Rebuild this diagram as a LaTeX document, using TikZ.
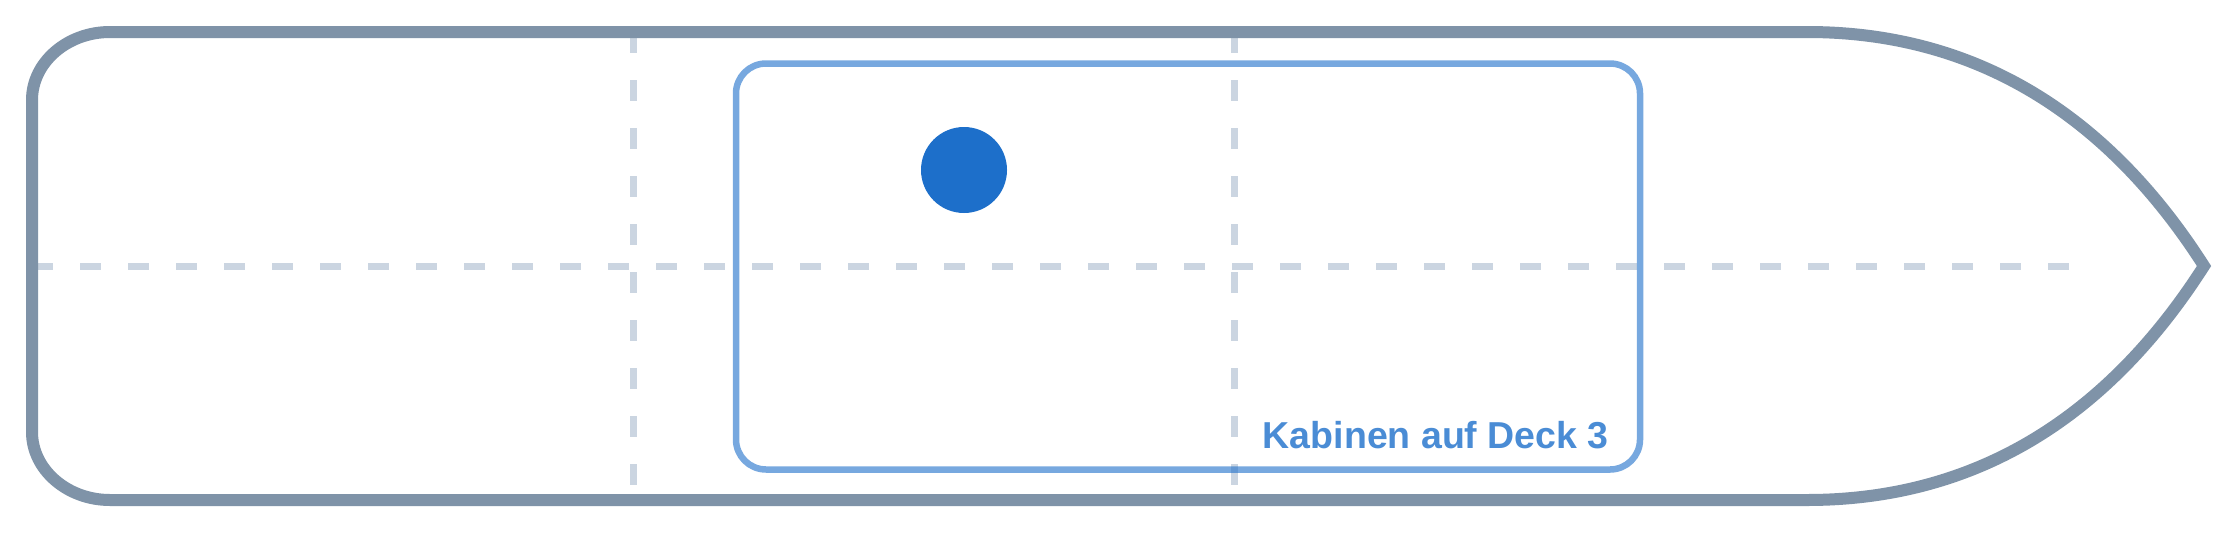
\documentclass[tikz,border=0pt]{standalone}
\usepackage{xcolor}
\usepackage{fontspec}
\setmainfont{Liberation Sans}
\usepackage{tikz}

\definecolor{hullgray}{HTML}{7F93A8}
\definecolor{gridgray}{HTML}{CBD5E1}
\definecolor{cabinblue}{HTML}{1D6FCA}

\begin{document}
\begin{tikzpicture}[
    x=1pt, y=-1pt,
    % Styles for hull, grid and deck
    hullline/.style={draw=hullgray, line width=12pt, line join=miter},
    gridline/.style={draw=gridgray, line width=7pt, dash pattern=on 21pt off 27pt},
    deckbox/.style={rectangle, draw=cabinblue, draw opacity=0.6, line width=6.5pt, rounded corners=30pt, minimum width=904pt, minimum height=406pt, inner sep=0pt},
    cabindot/.style={circle, fill=cabinblue, minimum size=86pt, inner sep=0pt},
    decklab/.style={font=\fontsize{37.5}{44}\selectfont\bfseries, text=cabinblue!80, inner sep=0pt, anchor=base east}
]

% Canvas
\fill[white] (0,0) rectangle (2240,533);
\useasboundingbox (0,0) rectangle (2240,533);

% Grid lines (behind the hull)
\draw[gridline] (32,266) -- (2070,266);
\foreach \gx in {633,1234}
    \draw[gridline] (\gx,32) -- (\gx,500);

% === HULL ===
\draw[hullline] (110,32) -- (1807,32)
    .. controls (1960,32) and (2098,100) .. (2204,266)
    .. controls (2098,432) and (1960,500) .. (1807,500)
    -- (110,500)
    .. controls (67,500) and (32,469.4) .. (32,432)
    -- (32,100)
    .. controls (32,62.6) and (67,32) .. (110,32) -- cycle;

% === DECK 3 ===
\node[deckbox] (deck) at (1188,266.5) {};
\node[cabindot] (cabin) at (964,170) {};
\node[decklab] (decktitle) at (1609,448) {Kabinen auf Deck 3};

\end{tikzpicture}
\end{document}
